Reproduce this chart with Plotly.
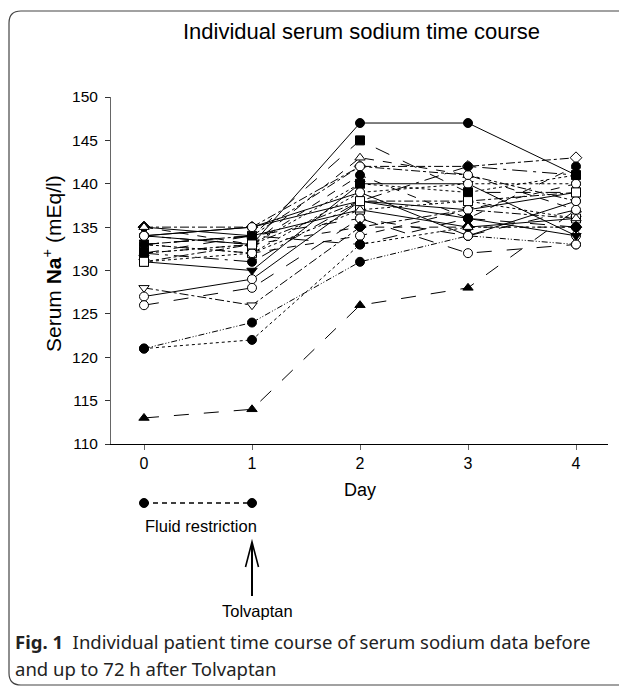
import plotly.graph_objects as go

days = [0, 1, 2, 3, 4]
day_labels = ["0", "1", "2", "3", "4"]
y_ticks = [110, 115, 120, 125, 130, 135, 140, 145, 150]

p01 = [113, 114, 126, 128, 137]
p02 = [121, 124, 131, 134, 133]
p03 = [121, 122, 133, 135, 135]
p04 = [128, 126, 135, 137, 136]
p05 = [127, 129, 138, 136, 134]
p06 = [126, 128, 136, 132, 133]
p07 = [131, 130, 140, 140, 134]
p08 = [135, 135, 142, 142, 143]
p09 = [134, 133, 147, 147, 141]
p10 = [133, 134, 145, 139, 139]
p11 = [132, 133, 143, 141, 137]
p12 = [133, 134, 142, 141, 138]
p13 = [134, 133, 141, 136, 142]
p14 = [133, 132, 139, 140, 140]
p15 = [132, 131, 138, 142, 141]
p16 = [131, 132, 137, 138, 136]
p17 = [132, 134, 136, 134, 137]
p18 = [135, 133, 135, 135, 135]
p19 = [134, 135, 138, 137, 139]
p20 = [133, 132, 134, 137, 140]
p21 = [132, 133, 140, 139, 141]
p22 = [135, 134, 137, 135, 136]
p23 = [133, 134, 133, 136, 135]
p24 = [134, 135, 139, 134, 138]
p25 = [131, 133, 138, 138, 139]

patients = [p01, p02, p03, p04, p05, p06, p07, p08, p09, p10, p11, p12, p13,
            p14, p15, p16, p17, p18, p19, p20, p21, p22, p23, p24, p25]

DDD = "6px,2px,1px,2px,1px,2px"
styles = [
    ("triangle-up", "longdash"), ("circle", DDD), ("circle", "dot"),
    ("triangle-down-open", "dashdot"), ("circle-open", "solid"),
    ("circle-open", "longdash"), ("triangle-down", "solid"),
    ("diamond-open", "dashdot"), ("circle", "solid"), ("square", "longdash"),
    ("triangle-up-open", "dash"), ("circle-open", "dashdot"), ("circle", "dash"),
    ("circle-open", "dot"), ("circle", "longdashdot"), ("square-open", "dot"),
    ("circle-open", "longdash"), ("diamond", "dash"), ("circle", "solid"),
    ("circle-open", "dash"), ("square", "dot"), ("triangle-up-open", "solid"),
    ("circle", "longdash"), ("circle-open", "solid"), ("square-open", "dashdot"),
]

fig = go.Figure()
for vals, (sym, dash) in zip(patients, styles):
    is_open = sym.endswith("-open")
    fig.add_trace(go.Scatter(
        x=days, y=vals, mode="lines+markers",
        line=dict(color="black", width=1, dash=dash),
        marker=dict(symbol=sym.replace("-open", ""), size=9,
                    color="white" if is_open else "black",
                    line=dict(color="black", width=1)),
        showlegend=False, hoverinfo="skip", cliponaxis=False))

# page body margin offset (px) of the html page
OFF = 8
SW, SH = 627, 687          # screen size
W, H = SW - OFF, SH - OFF  # figure size
# plot area in screen pixels
L, R, T, B = 111, 608, 97, 444


def px(x):
    return (x - L) / (R - L)


def py(y):
    return (B - y) / (B - T)


shapes = []
# rounded border
x0, x1, y0, y1, r = 9, 660, 11, 685, 12
path = (f"M {px(x0+r)},{py(y0)} L {px(x1)},{py(y0)} L {px(x1)},{py(y1)} "
        f"L {px(x0+r)},{py(y1)} Q {px(x0)},{py(y1)} {px(x0)},{py(y1-r)} "
        f"L {px(x0)},{py(y0+r)} Q {px(x0)},{py(y0)} {px(x0+r)},{py(y0)}")
shapes.append(dict(type="path", xref="paper", yref="paper", path=path,
                   line=dict(color="#444", width=1.2)))
# fluid restriction bar
yb = py(503)
shapes.append(dict(type="line", xref="x", yref="paper", x0=0, x1=1, y0=yb, y1=yb,
                   line=dict(color="black", width=1.5, dash="5px,4px")))
for xd in (0, 1):
    shapes.append(dict(type="circle", xref="x", yref="paper", xsizemode="pixel",
                       ysizemode="pixel", xanchor=xd, yanchor=yb,
                       x0=-4.5, x1=4.5, y0=-4.5, y1=4.5,
                       fillcolor="black", line=dict(color="black", width=1)))
# Tolvaptan arrow
shapes.append(dict(type="line", xref="x", yref="paper", x0=1, x1=1,
                   y0=py(596), y1=py(543), line=dict(color="black", width=2)))
shapes.append(dict(type="path", xref="paper", yref="paper",
                   path=(f"M {px(245.5)},{py(567)} L {px(252)},{py(542)} "
                         f"L {px(258.5)},{py(567)}"),
                   line=dict(color="black", width=1.6)))

ARIAL = "Liberation Sans, Arial"
ann = [
    dict(text="Individual serum sodium time course", x=px(361), y=py(31),
         font=dict(size=22, family=ARIAL, color="black")),
    dict(text="Serum <b>Na</b><sup>+</sup> (mEq/l)", x=px(52), y=py(264),
         textangle=-90, font=dict(size=21, family=ARIAL, color="black")),
    dict(text="Day", x=px(360), y=py(490),
         font=dict(size=18, family=ARIAL, color="black")),
    dict(text="Fluid restriction", x=px(201), y=py(526),
         font=dict(size=16.5, family=ARIAL, color="black")),
    dict(text="Tolvaptan", x=px(257), y=py(611),
         font=dict(size=16.5, family=ARIAL, color="black")),
    dict(text="<b>Fig. 1</b>  Individual patient time course of serum sodium data before",
         x=px(13), y=py(641), xanchor="left",
         font=dict(size=18.5, family="Noto Sans", color="#222")),
    dict(text="and up to 72 h after Tolvaptan", x=px(13), y=py(668), xanchor="left",
         font=dict(size=18.5, family="Noto Sans", color="#222")),
]
annotations = []
for a in ann:
    d = dict(xref="paper", yref="paper", showarrow=False, xanchor="center",
             yanchor="middle")
    d.update(a)
    annotations.append(d)

fig.update_layout(
    width=W, height=H,
    margin=dict(l=L - OFF, r=SW - R, t=T - OFF, b=SH - B, pad=0),
    paper_bgcolor="white", plot_bgcolor="white",
    shapes=shapes, annotations=annotations,
    xaxis=dict(range=[(L - 144) / 108, (R - 144) / 108], tickvals=days,
               ticktext=day_labels, showgrid=False, zeroline=False,
               showline=True, linecolor="black", linewidth=1.2,
               ticks="outside", ticklen=5, tickcolor="#666",
               tickfont=dict(size=16, family=ARIAL, color="black")),
    yaxis=dict(range=[110, 150], tickvals=y_ticks, showgrid=False,
               zeroline=False, showline=True, linecolor="#666", linewidth=1,
               ticks="outside", ticklen=5, tickcolor="#333",
               ticklabelstandoff=4,
               tickfont=dict(size=15.5, family=ARIAL, color="black")),
)

fig.write_html("out.html")
